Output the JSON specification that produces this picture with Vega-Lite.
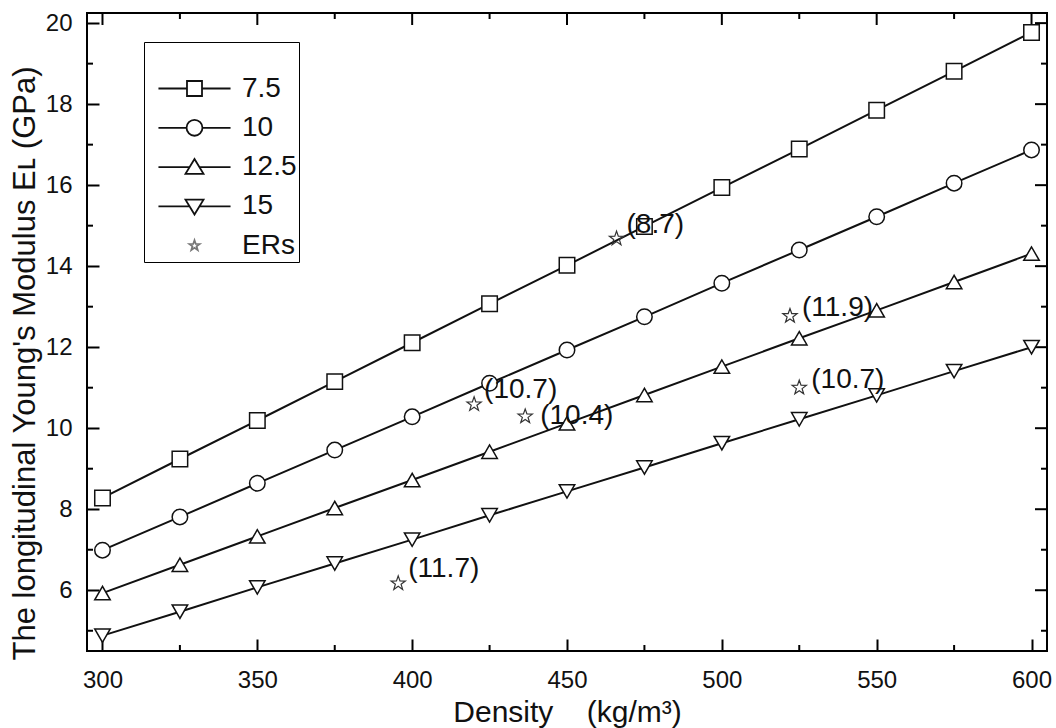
{
  "$schema": "https://vega.github.io/schema/vega-lite/v6.json",
  "width": 960,
  "height": 638,
  "autosize": {"type": "none"},
  "padding": {"left": 87, "top": 13, "right": 9, "bottom": 77},
  "background": "white",
  "config": {
    "font": "Liberation Sans",
    "view": {"stroke": "black", "strokeWidth": 2},
    "tick": {"thickness": 2, "opacity": 1, "color": "black"},
    "axis": {
      "grid": false,
      "domain": false,
      "tickColor": "black",
      "tickWidth": 2,
      "labelFont": "Liberation Sans",
      "labelFontSize": 24,
      "labelColor": "#111",
      "titleFont": "Liberation Sans",
      "titleFontSize": 30,
      "titleFontWeight": "normal",
      "titleColor": "#111"
    }
  },
  "datasets": {
    "curves": [
      {"density": 300, "E": 8.28, "series": "7.5"},
      {"density": 325, "E": 9.24, "series": "7.5"},
      {"density": 350, "E": 10.19, "series": "7.5"},
      {"density": 375, "E": 11.15, "series": "7.5"},
      {"density": 400, "E": 12.11, "series": "7.5"},
      {"density": 425, "E": 13.07, "series": "7.5"},
      {"density": 450, "E": 14.02, "series": "7.5"},
      {"density": 475, "E": 14.98, "series": "7.5"},
      {"density": 500, "E": 15.94, "series": "7.5"},
      {"density": 525, "E": 16.89, "series": "7.5"},
      {"density": 550, "E": 17.85, "series": "7.5"},
      {"density": 575, "E": 18.81, "series": "7.5"},
      {"density": 600, "E": 19.77, "series": "7.5"},
      {"density": 300, "E": 6.99, "series": "10"},
      {"density": 325, "E": 7.81, "series": "10"},
      {"density": 350, "E": 8.64, "series": "10"},
      {"density": 375, "E": 9.46, "series": "10"},
      {"density": 400, "E": 10.28, "series": "10"},
      {"density": 425, "E": 11.11, "series": "10"},
      {"density": 450, "E": 11.93, "series": "10"},
      {"density": 475, "E": 12.75, "series": "10"},
      {"density": 500, "E": 13.58, "series": "10"},
      {"density": 525, "E": 14.4, "series": "10"},
      {"density": 550, "E": 15.22, "series": "10"},
      {"density": 575, "E": 16.05, "series": "10"},
      {"density": 600, "E": 16.87, "series": "10"},
      {"density": 300, "E": 5.93, "series": "12.5"},
      {"density": 325, "E": 6.63, "series": "12.5"},
      {"density": 350, "E": 7.33, "series": "12.5"},
      {"density": 375, "E": 8.03, "series": "12.5"},
      {"density": 400, "E": 8.72, "series": "12.5"},
      {"density": 425, "E": 9.42, "series": "12.5"},
      {"density": 450, "E": 10.12, "series": "12.5"},
      {"density": 475, "E": 10.82, "series": "12.5"},
      {"density": 500, "E": 11.52, "series": "12.5"},
      {"density": 525, "E": 12.22, "series": "12.5"},
      {"density": 550, "E": 12.91, "series": "12.5"},
      {"density": 575, "E": 13.61, "series": "12.5"},
      {"density": 600, "E": 14.31, "series": "12.5"},
      {"density": 300, "E": 4.88, "series": "15"},
      {"density": 325, "E": 5.47, "series": "15"},
      {"density": 350, "E": 6.07, "series": "15"},
      {"density": 375, "E": 6.66, "series": "15"},
      {"density": 400, "E": 7.25, "series": "15"},
      {"density": 425, "E": 7.85, "series": "15"},
      {"density": 450, "E": 8.44, "series": "15"},
      {"density": 475, "E": 9.03, "series": "15"},
      {"density": 500, "E": 9.63, "series": "15"},
      {"density": 525, "E": 10.22, "series": "15"},
      {"density": 550, "E": 10.81, "series": "15"},
      {"density": 575, "E": 11.41, "series": "15"},
      {"density": 600, "E": 12.0, "series": "15"}
    ],
    "ers": [
      {"density": 466, "E": 14.68, "label": "(8.7)"},
      {"density": 420, "E": 10.59, "label": "(10.7)"},
      {"density": 436.5, "E": 10.29, "label": "(10.4)"},
      {"density": 522, "E": 12.77, "label": "(11.9)"},
      {"density": 525, "E": 11.0, "label": "(10.7)"},
      {"density": 395.5, "E": 6.17, "label": "(11.7)"}
    ],
    "xticks": [
      {"density": 300}, {"density": 325}, {"density": 350}, {"density": 375}, {"density": 400},
      {"density": 425}, {"density": 450}, {"density": 475}, {"density": 500}, {"density": 525},
      {"density": 550}, {"density": 575}, {"density": 600}
    ],
    "yticks": [
      {"E": 5}, {"E": 6}, {"E": 7}, {"E": 8}, {"E": 9}, {"E": 10}, {"E": 11}, {"E": 12},
      {"E": 13}, {"E": 14}, {"E": 15}, {"E": 16}, {"E": 17}, {"E": 18}, {"E": 19}, {"E": 20}
    ]
  },
  "resolve": {
    "scale": {"shape": "independent", "stroke": "independent"}
  },
  "layer": [
    {
      "data": {"name": "curves"},
      "mark": {"type": "line", "color": "#111", "strokeWidth": 2},
      "encoding": {
        "x": {
          "field": "density", "type": "quantitative",
          "title": "Density\u00a0\u00a0\u00a0\u00a0(kg/m³)",
          "scale": {"domain": [295, 605], "nice": false, "zero": false},
          "axis": {
            "orient": "bottom",
            "titlePadding": 5,
            "values": [300, 350, 400, 450, 500, 550, 600],
            "tickSize": -12,
            "labelPadding": 29
          }
        },
        "y": {
          "field": "E", "type": "quantitative",
          "title": "The longitudinal Young's Modulus  E\u029f (GPa)",
          "scale": {"domain": [4.5, 20.25], "nice": false, "zero": false},
          "axis": {
            "orient": "left",
            "titleFontSize": 31,
            "titlePadding": 4,
            "titleY": 350,
            "values": [6, 8, 10, 12, 14, 16, 18, 20],
            "tickSize": -12,
            "labelPadding": 27
          }
        },
        "detail": {"field": "series", "type": "nominal"}
      }
    },
    {
      "data": {"name": "xticks"},
      "transform": [{"filter": "datum.density % 50 != 0"}],
      "mark": {"type": "tick", "orient": "vertical", "size": 6},
      "encoding": {
        "x": {"field": "density", "type": "quantitative", "title": "Density\u00a0\u00a0\u00a0\u00a0(kg/m³)"},
        "y": {"datum": 4.574, "type": "quantitative", "title": "The longitudinal Young's Modulus  E\u029f (GPa)"}
      }
    },
    {
      "data": {"name": "xticks"},
      "transform": [{"filter": "datum.density % 50 == 0"}],
      "mark": {"type": "tick", "orient": "vertical", "size": 12},
      "encoding": {
        "x": {"field": "density", "type": "quantitative", "title": "Density\u00a0\u00a0\u00a0\u00a0(kg/m³)"},
        "y": {"datum": 20.102, "type": "quantitative", "title": "The longitudinal Young's Modulus  E\u029f (GPa)"}
      }
    },
    {
      "data": {"name": "xticks"},
      "transform": [{"filter": "datum.density % 50 != 0"}],
      "mark": {"type": "tick", "orient": "vertical", "size": 6},
      "encoding": {
        "x": {"field": "density", "type": "quantitative", "title": "Density\u00a0\u00a0\u00a0\u00a0(kg/m³)"},
        "y": {"datum": 20.176, "type": "quantitative", "title": "The longitudinal Young's Modulus  E\u029f (GPa)"}
      }
    },
    {
      "data": {"name": "yticks"},
      "transform": [{"filter": "datum.E % 2 != 0"}],
      "mark": {"type": "tick", "orient": "horizontal", "size": 6},
      "encoding": {
        "y": {"field": "E", "type": "quantitative", "title": "The longitudinal Young's Modulus  E\u029f (GPa)"},
        "x": {"datum": 295.97, "type": "quantitative", "title": "Density\u00a0\u00a0\u00a0\u00a0(kg/m³)"}
      }
    },
    {
      "data": {"name": "yticks"},
      "transform": [{"filter": "datum.E % 2 == 0"}],
      "mark": {"type": "tick", "orient": "horizontal", "size": 12},
      "encoding": {
        "y": {"field": "E", "type": "quantitative", "title": "The longitudinal Young's Modulus  E\u029f (GPa)"},
        "x": {"datum": 603.06, "type": "quantitative", "title": "Density\u00a0\u00a0\u00a0\u00a0(kg/m³)"}
      }
    },
    {
      "data": {"name": "yticks"},
      "transform": [{"filter": "datum.E % 2 != 0"}],
      "mark": {"type": "tick", "orient": "horizontal", "size": 6},
      "encoding": {
        "y": {"field": "E", "type": "quantitative", "title": "The longitudinal Young's Modulus  E\u029f (GPa)"},
        "x": {"datum": 604.03, "type": "quantitative", "title": "Density\u00a0\u00a0\u00a0\u00a0(kg/m³)"}
      }
    },
    {
      "data": {"name": "curves"},
      "mark": {"type": "point", "filled": false, "fill": "white", "fillOpacity": 1, "stroke": "#111", "strokeWidth": 1.5, "size": 240, "opacity": 1},
      "encoding": {
        "x": {"field": "density", "type": "quantitative", "title": "Density\u00a0\u00a0\u00a0\u00a0(kg/m³)"},
        "y": {"field": "E", "type": "quantitative", "title": "The longitudinal Young's Modulus  E\u029f (GPa)"},
        "shape": {
          "field": "series", "type": "nominal",
          "scale": {"domain": ["7.5", "10", "12.5", "15"], "range": ["square", "circle", "triangle-up", "triangle-down"]},
          "legend": null
        }
      }
    },
    {
      "data": {"name": "ers"},
      "mark": {
        "type": "point",
        "shape": "M0,-1L0.235,-0.324L0.951,-0.309L0.38,0.124L0.588,0.809L0,0.4L-0.588,0.809L-0.38,0.124L-0.951,-0.309L-0.235,-0.324Z",
        "size": 225, "filled": false, "stroke": "#333", "strokeWidth": 1.2, "opacity": 1
      },
      "encoding": {
        "x": {"field": "density", "type": "quantitative", "title": "Density\u00a0\u00a0\u00a0\u00a0(kg/m³)"},
        "y": {"field": "E", "type": "quantitative", "title": "The longitudinal Young's Modulus  E\u029f (GPa)"}
      }
    },
    {
      "data": {"name": "ers"},
      "transform": [{"filter": "datum.E > 14 || datum.density < 430"}],
      "mark": {"type": "text", "align": "left", "baseline": "middle", "dx": 10, "dy": -14, "fontSize": 28, "font": "Liberation Sans", "color": "#111"},
      "encoding": {
        "x": {"field": "density", "type": "quantitative", "title": "Density\u00a0\u00a0\u00a0\u00a0(kg/m³)"},
        "y": {"field": "E", "type": "quantitative", "title": "The longitudinal Young's Modulus  E\u029f (GPa)"},
        "text": {"field": "label", "type": "nominal"}
      }
    },
    {
      "data": {"name": "ers"},
      "transform": [{"filter": "datum.density > 500"}],
      "mark": {"type": "text", "align": "left", "baseline": "middle", "dx": 12, "dy": -8, "fontSize": 28, "font": "Liberation Sans", "color": "#111"},
      "encoding": {
        "x": {"field": "density", "type": "quantitative", "title": "Density\u00a0\u00a0\u00a0\u00a0(kg/m³)"},
        "y": {"field": "E", "type": "quantitative", "title": "The longitudinal Young's Modulus  E\u029f (GPa)"},
        "text": {"field": "label", "type": "nominal"}
      }
    },
    {
      "data": {"name": "ers"},
      "transform": [{"filter": "datum.density > 430 && datum.density < 440"}],
      "mark": {"type": "text", "align": "left", "baseline": "middle", "dx": 15, "dy": 0, "fontSize": 28, "font": "Liberation Sans", "color": "#111"},
      "encoding": {
        "x": {"field": "density", "type": "quantitative", "title": "Density\u00a0\u00a0\u00a0\u00a0(kg/m³)"},
        "y": {"field": "E", "type": "quantitative", "title": "The longitudinal Young's Modulus  E\u029f (GPa)"},
        "text": {"field": "label", "type": "nominal"}
      }
    },
    {
      "data": {"name": "curves"},
      "transform": [{"filter": "false"}],
      "mark": {"type": "point", "filled": false},
      "encoding": {
        "x": {"field": "density", "type": "quantitative", "title": "Density\u00a0\u00a0\u00a0\u00a0(kg/m³)"},
        "y": {"field": "E", "type": "quantitative", "title": "The longitudinal Young's Modulus  E\u029f (GPa)"},
        "shape": {
          "field": "series", "type": "nominal",
          "scale": {
            "domain": ["7.5", "10", "12.5", "15", "ERs"],
            "range": [
              "M-2.67,0H-0.556M0.556,0H2.67M-0.556,-0.556H0.556V0.556H-0.556Z",
              "M-2.67,0H-0.59M0.59,0H2.67M0.59,0A0.59,0.59 0 1,1 -0.59,0A0.59,0.59 0 1,1 0.59,0Z",
              "M-2.67,0H-0.36M0.36,0H2.67M0,-0.6L0.667,0.5H-0.667Z",
              "M-2.67,0H-0.36M0.36,0H2.67M0,0.6L0.667,-0.5H-0.667Z",
              "M0,-0.4L0.094,-0.13L0.38,-0.124L0.152,0.05L0.235,0.324L0,0.16L-0.235,0.324L-0.152,0.05L-0.38,-0.124L-0.094,-0.13Z"
            ]
          },
          "legend": {
            "orient": "none",
            "legendX": 57,
            "legendY": 29,
            "title": " ",
            "titleFontSize": 18,
            "titlePadding": 12,
            "padding": 2,
            "strokeColor": "black",
            "fillColor": "white",
            "symbolSize": 729,
            "symbolFillColor": "white",
            "symbolStrokeWidth": 1.8,
            "symbolOpacity": 1,
            "symbolOffset": 34,
            "labelOffset": 33,
            "labelFontSize": 28,
            "labelFont": "Liberation Sans",
            "labelColor": "#111",
            "labelExpr": "datum.label + '\u00a0\u00a0'",
            "rowPadding": 10.3
          }
        },
        "stroke": {
          "field": "series", "type": "nominal",
          "scale": {"domain": ["7.5", "10", "12.5", "15", "ERs"], "range": ["#111", "#111", "#111", "#111", "#777"]}
        }
      }
    }
  ]
}
